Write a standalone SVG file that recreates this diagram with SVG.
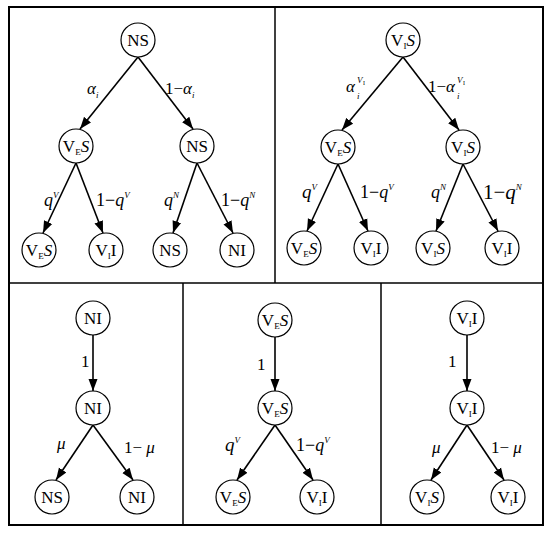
<svg xmlns="http://www.w3.org/2000/svg" width="550" height="533" viewBox="0 0 550 533">
<style>
.frame{fill:none;stroke:#000;stroke-width:2}
.div{stroke:#000;stroke-width:1.5}
.node circle{fill:#fff;stroke:#000;stroke-width:1.2}
.node text{font-family:"Liberation Serif","Times New Roman",serif;font-size:17px;text-anchor:middle;fill:#000}
.edge{stroke:#000;stroke-width:1.6;fill:none;marker-end:url(#ah)}
.lbl{font-family:"Liberation Serif","Times New Roman",serif;font-size:17px;fill:#000}
.it{font-style:italic}
.sub{font-size:9px}
.tiny{font-size:6px}
</style>
<defs>
<marker id="ah" viewBox="0 0 12 10" refX="12" refY="5" markerWidth="12" markerHeight="10" markerUnits="userSpaceOnUse" orient="auto">
<path d="M0,0.5 L12,5 L0,9.5 z" fill="#000"/>
</marker>
</defs>
<rect class="frame" x="9" y="7" width="534" height="518"/>
<line class="div" x1="9" y1="283" x2="543" y2="283"/>
<line class="div" x1="275" y1="7" x2="275" y2="283"/>
<line class="div" x1="183" y1="283" x2="183" y2="525"/>
<line class="div" x1="381" y1="283" x2="381" y2="525"/>

<g id="connectors">
<line class="edge" x1="138" y1="57" x2="80" y2="129"/>
<line class="edge" x1="138" y1="57" x2="193" y2="129"/>
<line class="edge" x1="76" y1="163" x2="43" y2="233"/>
<line class="edge" x1="76" y1="163" x2="103" y2="233"/>
<line class="edge" x1="197" y1="163" x2="173" y2="233"/>
<line class="edge" x1="197" y1="163" x2="233" y2="233"/>
<line class="edge" x1="403" y1="57" x2="342" y2="130"/>
<line class="edge" x1="403" y1="57" x2="459" y2="130"/>
<line class="edge" x1="338" y1="164" x2="307" y2="231"/>
<line class="edge" x1="338" y1="164" x2="368" y2="231"/>
<line class="edge" x1="463" y1="164" x2="436" y2="231"/>
<line class="edge" x1="463" y1="164" x2="498" y2="231"/>
<line class="edge" x1="93" y1="335" x2="93" y2="391"/>
<line class="edge" x1="93" y1="425" x2="56" y2="480"/>
<line class="edge" x1="93" y1="425" x2="133" y2="480"/>
<line class="edge" x1="275" y1="337" x2="275" y2="391"/>
<line class="edge" x1="275" y1="425" x2="237" y2="480"/>
<line class="edge" x1="275" y1="425" x2="313" y2="480"/>
<line class="edge" x1="467" y1="335" x2="467" y2="391"/>
<line class="edge" x1="467" y1="425" x2="431" y2="480"/>
<line class="edge" x1="467" y1="425" x2="504" y2="480"/>
</g>

<g id="labels">
<text class="lbl" x="87" y="94"><tspan class="it">α</tspan><tspan class="sub it" dy="4">i</tspan></text>
<text class="lbl" x="165" y="94">1−<tspan class="it">α</tspan><tspan class="sub it" dy="4">i</tspan></text>
<text class="lbl" x="44" y="206" style="font-size:18px"><tspan class="it">q</tspan><tspan class="sub it" dy="-8">V</tspan></text>
<text class="lbl" x="96" y="206" style="font-size:18px">1−<tspan class="it">q</tspan><tspan class="sub it" dy="-8">V</tspan></text>
<text class="lbl" x="164" y="206" style="font-size:18px"><tspan class="it">q</tspan><tspan class="sub it" dy="-8">N</tspan></text>
<text class="lbl" x="221" y="206" style="font-size:18px">1−<tspan class="it">q</tspan><tspan class="sub it" dy="-8">N</tspan></text>

<text class="lbl it" x="346" y="92">α</text>
<text class="lbl sub it" x="357" y="83">V</text>
<text class="lbl tiny" x="363" y="85">I</text>
<text class="lbl sub it" x="357" y="99">i</text>
<text class="lbl" x="428" y="92">1−<tspan class="it">α</tspan></text>
<text class="lbl sub it" x="457" y="83">V</text>
<text class="lbl tiny" x="463" y="85">I</text>
<text class="lbl sub it" x="457" y="99">i</text>
<text class="lbl" x="302" y="198" style="font-size:19px"><tspan class="it">q</tspan><tspan class="sub it" dy="-8">V</tspan></text>
<text class="lbl" x="360" y="198" style="font-size:18px">1−<tspan class="it">q</tspan><tspan class="sub it" dy="-8">V</tspan></text>
<text class="lbl" x="431" y="198" style="font-size:18px"><tspan class="it">q</tspan><tspan class="sub it" dy="-8">N</tspan></text>
<text class="lbl" x="483" y="199" style="font-size:21px">1−<tspan class="it">q</tspan><tspan class="sub it" dy="-9">N</tspan></text>

<text class="lbl" x="81" y="367">1</text>
<text class="lbl it" x="57" y="449">μ</text>
<text class="lbl" x="124" y="453">1− <tspan class="it">μ</tspan></text>

<text class="lbl" x="257" y="370">1</text>
<text class="lbl" x="225" y="451" style="font-size:19px"><tspan class="it">q</tspan><tspan class="sub it" dy="-8">V</tspan></text>
<text class="lbl" x="296" y="451" style="font-size:18px">1−<tspan class="it">q</tspan><tspan class="sub it" dy="-8">V</tspan></text>

<text class="lbl" x="448" y="367">1</text>
<text class="lbl it" x="432" y="453">μ</text>
<text class="lbl" x="491" y="453">1− <tspan class="it">μ</tspan></text>
</g>

<g id="n1" class="node"><circle cx="138" cy="40" r="17"/><text x="138" y="46">NS</text></g>
<g id="n2" class="node"><circle cx="76" cy="146" r="17"/><text x="76" y="152">V<tspan class="sub" dy="3">E</tspan><tspan class="it" dy="-3">S</tspan></text></g>
<g id="n3" class="node"><circle cx="197" cy="146" r="17"/><text x="197" y="152">NS</text></g>
<g id="n4" class="node"><circle cx="39" cy="250" r="17"/><text x="39" y="256">V<tspan class="sub" dy="3">E</tspan><tspan class="it" dy="-3">S</tspan></text></g>
<g id="n5" class="node"><circle cx="106" cy="250" r="17"/><text x="106" y="256">V<tspan class="sub" dy="3">I</tspan><tspan dy="-3">I</tspan></text></g>
<g id="n6" class="node"><circle cx="170" cy="250" r="17"/><text x="170" y="256">NS</text></g>
<g id="n7" class="node"><circle cx="237" cy="250" r="17"/><text x="237" y="256">NI</text></g>

<g id="n8" class="node"><circle cx="403" cy="40" r="17"/><text x="403" y="46">V<tspan class="sub" dy="3">I</tspan><tspan class="it" dy="-3">S</tspan></text></g>
<g id="n9" class="node"><circle cx="338" cy="147" r="17"/><text x="338" y="153">V<tspan class="sub" dy="3">E</tspan><tspan class="it" dy="-3">S</tspan></text></g>
<g id="n10" class="node"><circle cx="463" cy="147" r="17"/><text x="463" y="153">V<tspan class="sub" dy="3">I</tspan><tspan class="it" dy="-3">S</tspan></text></g>
<g id="n11" class="node"><circle cx="304" cy="248" r="17"/><text x="304" y="254">V<tspan class="sub" dy="3">E</tspan><tspan class="it" dy="-3">S</tspan></text></g>
<g id="n12" class="node"><circle cx="371" cy="248" r="17"/><text x="371" y="254">V<tspan class="sub" dy="3">I</tspan><tspan dy="-3">I</tspan></text></g>
<g id="n13" class="node"><circle cx="433" cy="248" r="17"/><text x="433" y="254">V<tspan class="sub" dy="3">I</tspan><tspan class="it" dy="-3">S</tspan></text></g>
<g id="n14" class="node"><circle cx="502" cy="248" r="17"/><text x="502" y="254">V<tspan class="sub" dy="3">I</tspan><tspan dy="-3">I</tspan></text></g>

<g id="n15" class="node"><circle cx="93" cy="318" r="17"/><text x="93" y="324">NI</text></g>
<g id="n16" class="node"><circle cx="93" cy="408" r="17"/><text x="93" y="414">NI</text></g>
<g id="n17" class="node"><circle cx="52" cy="497" r="17"/><text x="52" y="503">NS</text></g>
<g id="n18" class="node"><circle cx="137" cy="497" r="17"/><text x="137" y="503">NI</text></g>

<g id="n19" class="node"><circle cx="275" cy="320" r="17"/><text x="275" y="326">V<tspan class="sub" dy="3">E</tspan><tspan class="it" dy="-3">S</tspan></text></g>
<g id="n20" class="node"><circle cx="275" cy="408" r="17"/><text x="275" y="414">V<tspan class="sub" dy="3">E</tspan><tspan class="it" dy="-3">S</tspan></text></g>
<g id="n21" class="node"><circle cx="233" cy="497" r="17"/><text x="233" y="503">V<tspan class="sub" dy="3">E</tspan><tspan class="it" dy="-3">S</tspan></text></g>
<g id="n22" class="node"><circle cx="317" cy="497" r="17"/><text x="317" y="503">V<tspan class="sub" dy="3">I</tspan><tspan dy="-3">I</tspan></text></g>

<g id="n23" class="node"><circle cx="467" cy="318" r="17"/><text x="467" y="324">V<tspan class="sub" dy="3">I</tspan><tspan dy="-3">I</tspan></text></g>
<g id="n24" class="node"><circle cx="467" cy="408" r="17"/><text x="467" y="414">V<tspan class="sub" dy="3">I</tspan><tspan dy="-3">I</tspan></text></g>
<g id="n25" class="node"><circle cx="427" cy="497" r="17"/><text x="427" y="503">V<tspan class="sub" dy="3">I</tspan><tspan class="it" dy="-3">S</tspan></text></g>
<g id="n26" class="node"><circle cx="508" cy="497" r="17"/><text x="508" y="503">V<tspan class="sub" dy="3">I</tspan><tspan dy="-3">I</tspan></text></g>
</svg>
